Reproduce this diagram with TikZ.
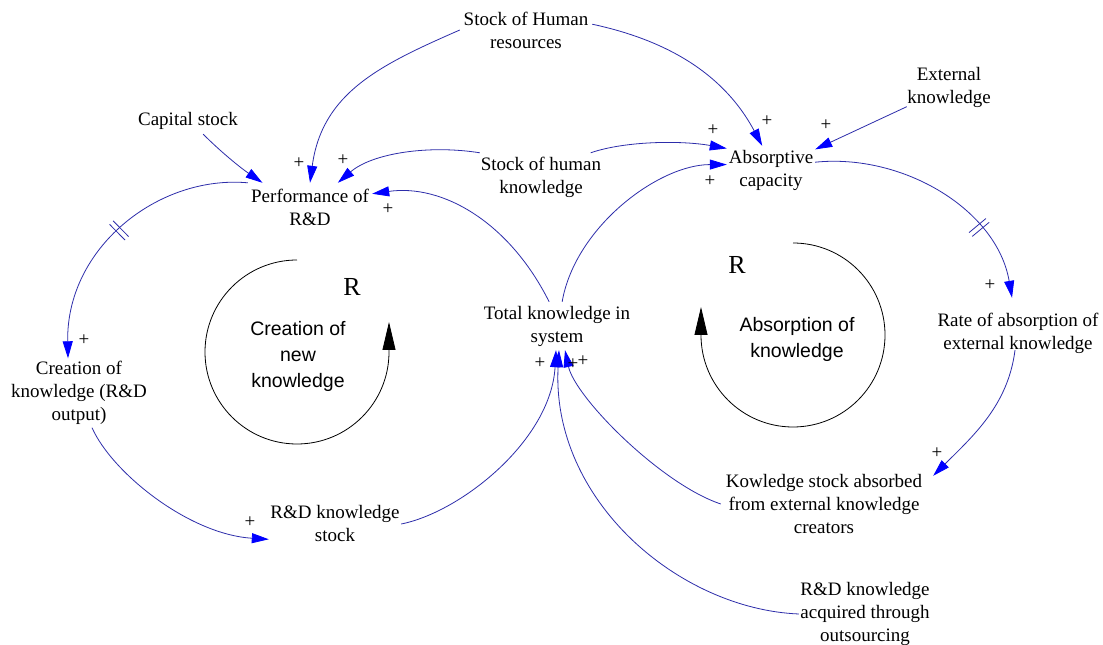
\documentclass[tikz,border=0pt]{standalone}
\usepackage{fontspec}
\setmainfont{Liberation Serif}
\newfontfamily\sansf{Liberation Sans}
\usetikzlibrary{arrows.meta,decorations.markings,calc}
\definecolor{linkc}{RGB}{45,45,170}
\definecolor{tipc}{RGB}{0,0,255}
\begin{document}
\begin{tikzpicture}[x=1pt,y=1pt,
  lbl/.style={inner sep=0pt, align=center, font=\fontsize{19}{23}\selectfont},
  pol/.style={inner sep=0pt, font=\fontsize{19}{23}\selectfont},
  looplbl/.style={inner sep=0pt, align=center, font=\sansf\fontsize{19.5}{26}\selectfont},
  rmark/.style={inner sep=0pt, font=\fontsize{26}{30}\selectfont},
  link/.style={draw=linkc, line width=0.8pt, -{Triangle[length=17pt,width=10pt,color=tipc]}},
  loopline/.style={draw=black, line width=0.8pt, -{Triangle[length=28pt,width=13pt]}},
  delaymark/.style={postaction={decorate}, decoration={markings, mark=at position #1 with {\draw[-,linkc,line width=0.8pt] (-2.5pt,-11pt)--(-2.5pt,11pt) (2.5pt,-11pt)--(2.5pt,11pt);}}}
]
\useasboundingbox (0,0) rectangle (1103,645);
\fill[white] (0,0) rectangle (1103,645);

% variables
\node[lbl, minimum width=132pt, minimum height=48pt] (srh) at (526,615) {Stock of Human\\resources};
\node[lbl, minimum width=104pt, minimum height=26pt] (cap) at (188,524) {Capital stock};
\node[lbl, minimum width=124pt, minimum height=48pt] (perf) at (310,438) {Performance of\\R\&D};
\node[lbl, minimum width=122pt, minimum height=48pt] (shk) at (541,468) {Stock of human\\knowledge};
\node[lbl, minimum width=88pt, minimum height=48pt] (abs) at (771,475) {Absorptive\\capacity};
\node[lbl, minimum width=84pt, minimum height=48pt] (ext) at (949,558) {External\\knowledge};
\node[lbl, minimum width=150pt, minimum height=48pt] (tot) at (557,319) {Total knowledge in\\system};
\node[lbl, minimum width=138pt, minimum height=69pt] (ck) at (79,252) {Creation of\\knowledge (R\&D\\output)};
\node[lbl, minimum width=132pt, minimum height=48pt] (rds) at (335,121) {R\&D knowledge\\stock};
\node[lbl, minimum width=166pt, minimum height=48pt] (rate) at (1018,312) {Rate of absorption of\\external knowledge};
\node[lbl, minimum width=206pt, minimum height=70pt] (ksa) at (824,141) {Kowledge stock absorbed\\from external knowledge\\creators};
\node[lbl, minimum width=132pt, minimum height=70pt] (out) at (865,31) {R\&D knowledge\\acquired through\\outsourcing};

% loop markers
\node[rmark] (rl) at (352,358) {R};
\node[rmark] (rr) at (737,380) {R};
\node[looplbl] (ll) at (298,289) {Creation of\\new\\knowledge};
\node[looplbl] (lr) at (797,306) {Absorption of\\knowledge};
\draw[loopline] (297,385) arc[start angle=90, end angle=360, radius=92] -- ++(0,30);
\draw[loopline] (793,402) arc[start angle=90, end angle=-180, radius=92] -- ++(0,28);

% links
\draw[link] (srh.west) .. controls +(-80,-35) and +(12,90) .. (perf.north);
\draw[link] (srh.5) .. controls +(70,-15) and +(-40,75) .. (abs.110);
\draw[link] (cap.-41) .. controls +(18,-18) and +(-22,15) .. (perf.153);
\draw[link] (shk.north west) .. controls +(-50,8) and +(35,30) .. (perf.41);
\draw[link] (shk.26) .. controls +(35,12) and +(-45,8) .. (abs.154);
\draw[link] (tot.108) .. controls +(-40,80) and +(70,10) .. (perf.12);
\draw[link] (tot.78) .. controls +(13,75) and +(-68,0) .. (abs.173);
\draw[link] (ext.205) -- (abs.25);
\draw[link, delaymark=0.7] (abs.10) .. controls +(88,9) and +(-15,88) .. ([shift={(-6pt,11pt)}]rate.north);
\draw[link] ([shift={(-3pt,7pt)}]rate.south) .. controls +(-7,-55) and +(40,40) .. ([shift={(6pt,-7pt)}]ksa.north east);
\draw[link] (ksa.west) .. controls +(-60,20) and +(10,-47) .. ([xshift=8pt]tot.south);
\draw[link] (out.west) .. controls +(-120,5) and +(-8,-150) .. ([xshift=2pt]tot.south);
\draw[link] (rds.east) .. controls +(60,12) and +(-5,-90) .. ([xshift=-1pt]tot.south);
\draw[link, delaymark=0.5] (perf.north west) .. controls +(-90,8) and +(-2,110) .. ([xshift=-11pt]ck.north);
\draw[link] ([xshift=13pt]ck.south) .. controls +(20,-45) and +(-80,5) .. (rds.193);

% polarities
\node[pol] (p1) at (299,482) {+};
\node[pol] (p2) at (343,485) {+};
\node[pol] (p3) at (388,436) {+};
\node[pol] (p4) at (713,515) {+};
\node[pol] (p5) at (767,524) {+};
\node[pol] (p6) at (710,464) {+};
\node[pol] (p7) at (826,520) {+};
\node[pol] (p8) at (84,305) {+};
\node[pol] (p9) at (250,123) {+};
\node[pol] (p10) at (990,360) {+};
\node[pol] (p11) at (937,192) {+};
\node[pol] (p12) at (540,282) {+};
\node[pol] (p13) at (573,281) {+};
\node[pol] (p14) at (583,284) {+};
\end{tikzpicture}
\end{document}
